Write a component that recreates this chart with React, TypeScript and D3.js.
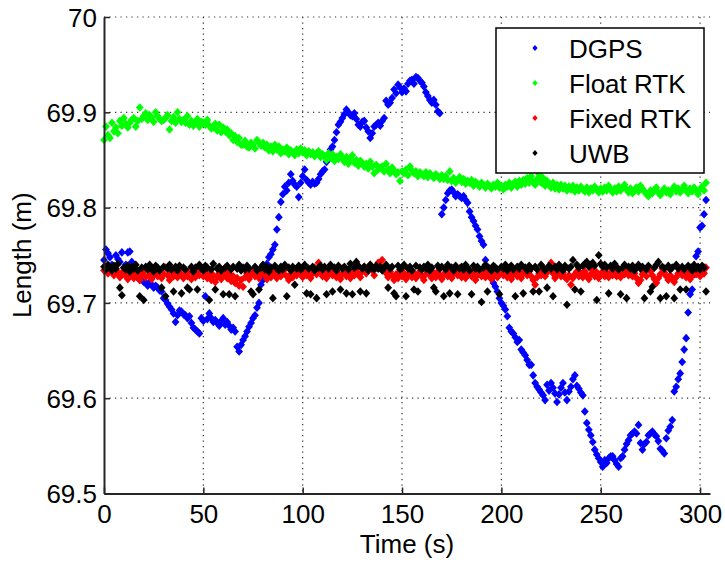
import React, { useRef, useEffect } from "react";
import * as d3 from "d3";

// samples are 1 s apart, starting at t = 0
const timeStep = 1;

const dgps = [
  69.745, 69.756, 69.752, 69.748, 69.740, 69.738, 69.750, 69.746, 69.743, 69.753,
  69.737, 69.740, 69.753, 69.754, 69.743, 69.736, 69.731, 69.727, 69.724, 69.729,
  69.722, 69.721, 69.718, 69.722, 69.719, 69.716, 69.718, 69.716, 69.713, 69.712,
  69.705, 69.703, 69.699, 69.696, 69.693, 69.689, 69.680, 69.687, 69.692, 69.691,
  69.688, 69.687, 69.684, 69.686, 69.679, 69.674, 69.672, 69.670, 69.668, 69.684,
  69.681, 69.707, 69.683, 69.689, 69.684, 69.680, 69.682, 69.679, 69.676, 69.681,
  69.684, 69.677, 69.680, 69.676, 69.672, 69.674, 69.670, 69.654, 69.649, 69.656,
  69.661, 69.665, 69.670, 69.675, 69.679, 69.684, 69.687, 69.695, 69.700, 69.719,
  69.724, 69.733, 69.741, 69.748, 69.751, 69.756, 69.761, 69.777, 69.790, 69.806,
  69.814, 69.822, 69.818, 69.826, 69.835, 69.828, 69.824, 69.822, 69.811, 69.826,
  69.833, 69.840, 69.829, 69.826, 69.824, 69.827, 69.825, 69.826, 69.830, 69.835,
  69.838, 69.840, 69.848, 69.852, 69.861, 69.864, 69.871, 69.879, 69.887, 69.890,
  69.894, 69.898, 69.903, 69.900, 69.897, 69.896, 69.899, 69.893, 69.887, 69.885,
  69.890, 69.891, 69.884, 69.880, 69.873, 69.878, 69.885, 69.887, 69.889, 69.886,
  69.891, 69.894, 69.912, 69.908, 69.910, 69.915, 69.924, 69.920, 69.929, 69.926,
  69.921, 69.925, 69.922, 69.930, 69.933, 69.934, 69.930, 69.937, 69.936, 69.933,
  69.931, 69.927, 69.921, 69.917, 69.913, 69.910, 69.913, 69.908, 69.901, 69.899,
  69.793, 69.800, 69.808, 69.815, 69.818, 69.819, 69.816, 69.812, 69.814, 69.812,
  69.810, 69.812, 69.808, 69.805, 69.796, 69.790, 69.786, 69.781, 69.777, 69.770,
  69.765, 69.761, 69.745, 69.738, 69.731, 69.726, 69.721, 69.717, 69.712, 69.705,
  69.700, 69.697, 69.693, 69.686, 69.674, 69.670, 69.668, 69.664, 69.659, 69.661,
  69.651, 69.648, 69.645, 69.640, 69.635, 69.635, 69.624, 69.616, 69.612, 69.609,
  69.606, 69.603, 69.598, 69.614, 69.608, 69.616, 69.611, 69.605, 69.596, 69.604,
  69.611, 69.616, 69.606, 69.598, 69.607, 69.612, 69.620, 69.624, 69.613, 69.610,
  69.606, 69.603, 69.586, 69.574, 69.567, 69.561, 69.554, 69.546, 69.541, 69.537,
  69.533, 69.528, 69.535, 69.532, 69.537, 69.539, 69.539, 69.535, 69.531, 69.528,
  69.537, 69.539, 69.546, 69.552, 69.556, 69.561, 69.563, 69.565, 69.563, 69.572,
  69.553, 69.546, 69.552, 69.554, 69.561, 69.563, 69.565, 69.562, 69.560, 69.555,
  69.547, 69.545, 69.542, 69.558, 69.566, 69.570, 69.577, 69.607, 69.612, 69.620,
  69.626, 69.638, 69.651, 69.663, 69.690, 69.709, 69.714, 69.730, 69.749, 69.754,
  69.779, 69.781, 69.793, 69.808,
];

const floatRtk = [
  69.871, 69.885, 69.876, 69.873, 69.889, 69.880, 69.884, 69.878, 69.891, 69.886,
  69.894, 69.888, 69.884, 69.889, 69.892, 69.894, 69.885, 69.891, 69.905, 69.893,
  69.896, 69.899, 69.892, 69.897, 69.894, 69.890, 69.900, 69.896, 69.893, 69.891,
  69.892, 69.894, 69.897, 69.882, 69.891, 69.895, 69.889, 69.900, 69.893, 69.890,
  69.892, 69.889, 69.896, 69.887, 69.891, 69.886, 69.889, 69.893, 69.885, 69.890,
  69.889, 69.887, 69.892, 69.886, 69.883, 69.884, 69.888, 69.881, 69.887, 69.879,
  69.884, 69.880, 69.882, 69.876, 69.878, 69.871, 69.875, 69.869, 69.873, 69.866,
  69.866, 69.870, 69.864, 69.863, 69.868, 69.866, 69.862, 69.871, 69.868, 69.865,
  69.868, 69.863, 69.866, 69.860, 69.864, 69.859, 69.866, 69.861, 69.864, 69.857,
  69.861, 69.859, 69.863, 69.856, 69.860, 69.858, 69.855, 69.861, 69.857, 69.862,
  69.858, 69.860, 69.855, 69.859, 69.856, 69.858, 69.854, 69.857, 69.859, 69.853,
  69.856, 69.854, 69.850, 69.857, 69.852, 69.856, 69.849, 69.853, 69.851, 69.856,
  69.852, 69.848, 69.853, 69.846, 69.851, 69.855, 69.847, 69.850, 69.844, 69.849,
  69.847, 69.843, 69.846, 69.841, 69.848, 69.843, 69.836, 69.845, 69.840, 69.842,
  69.843, 69.838, 69.846, 69.840, 69.836, 69.842, 69.839, 69.835, 69.837, 69.828,
  69.838, 69.836, 69.840, 69.834, 69.843, 69.839, 69.836, 69.838, 69.833, 69.837,
  69.835, 69.833, 69.837, 69.832, 69.836, 69.834, 69.831, 69.835, 69.833, 69.830,
  69.834, 69.830, 69.833, 69.829, 69.838, 69.828, 69.831, 69.826, 69.829, 69.832,
  69.827, 69.830, 69.825, 69.828, 69.826, 69.829, 69.823, 69.827, 69.825, 69.822,
  69.826, 69.824, 69.821, 69.825, 69.823, 69.820, 69.824, 69.822, 69.826, 69.821,
  69.823, 69.819, 69.824, 69.822, 69.826, 69.821, 69.825, 69.827, 69.822, 69.828,
  69.824, 69.829, 69.825, 69.831, 69.826, 69.833, 69.827, 69.824, 69.830, 69.835,
  69.826, 69.831, 69.823, 69.828, 69.825, 69.821, 69.826, 69.820, 69.824, 69.819,
  69.824, 69.820, 69.823, 69.818, 69.822, 69.819, 69.823, 69.817, 69.821, 69.818,
  69.822, 69.819, 69.817, 69.821, 69.816, 69.820, 69.818, 69.822, 69.819, 69.816,
  69.820, 69.817, 69.821, 69.818, 69.823, 69.819, 69.816, 69.820, 69.817, 69.822,
  69.818, 69.821, 69.824, 69.819, 69.816, 69.820, 69.815, 69.818, 69.821, 69.817,
  69.823, 69.820, 69.817, 69.814, 69.812, 69.818, 69.815, 69.819, 69.821, 69.816,
  69.813, 69.817, 69.820, 69.816, 69.818, 69.814, 69.819, 69.822, 69.817, 69.820,
  69.816, 69.819, 69.823, 69.818, 69.815, 69.820, 69.817, 69.821, 69.818, 69.814,
  69.819, 69.822, 69.818, 69.826,
];

const fixedRtk = [
  69.734, 69.738, 69.731, 69.736, 69.733, 69.729, 69.735, 69.732, 69.727, 69.731,
  69.734, 69.728, 69.725, 69.731, 69.729, 69.726, 69.732, 69.728, 69.724, 69.730,
  69.733, 69.727, 69.735, 69.730, 69.725, 69.729, 69.734, 69.728, 69.731, 69.726,
  69.730, 69.737, 69.729, 69.724, 69.732, 69.728, 69.733, 69.727, 69.735, 69.730,
  69.726, 69.731, 69.728, 69.734, 69.725, 69.730, 69.727, 69.732, 69.729, 69.735,
  69.728, 69.732, 69.726, 69.730, 69.724, 69.729, 69.722, 69.727, 69.731, 69.725,
  69.729, 69.733, 69.726, 69.730, 69.723, 69.728, 69.721, 69.726, 69.718, 69.724,
  69.717, 69.727, 69.731, 69.725, 69.729, 69.733, 69.728, 69.732, 69.726, 69.730,
  69.734, 69.729, 69.725, 69.731, 69.727, 69.733, 69.730, 69.726, 69.732, 69.728,
  69.731, 69.735, 69.728, 69.724, 69.730, 69.727, 69.733, 69.729, 69.736, 69.731,
  69.727, 69.733, 69.729, 69.734, 69.726, 69.731, 69.737, 69.730, 69.742, 69.733,
  69.728, 69.732, 69.726, 69.730, 69.735, 69.729, 69.733, 69.727, 69.731, 69.725,
  69.730, 69.734, 69.728, 69.732, 69.726, 69.731, 69.729, 69.735, 69.730, 69.727,
  69.733, 69.738, 69.731, 69.736, 69.740, 69.734, 69.729, 69.737, 69.742, 69.739,
  69.745, 69.736, 69.731, 69.727, 69.733, 69.729, 69.724, 69.730, 69.726, 69.732,
  69.728, 69.731, 69.725, 69.729, 69.734, 69.727, 69.731, 69.726, 69.730, 69.733,
  69.728, 69.724, 69.730, 69.734, 69.729, 69.726, 69.731, 69.727, 69.733, 69.729,
  69.725, 69.730, 69.736, 69.728, 69.732, 69.726, 69.731, 69.735, 69.729, 69.733,
  69.727, 69.731, 69.726, 69.730, 69.734, 69.728, 69.732, 69.724, 69.729, 69.733,
  69.728, 69.731, 69.727, 69.734, 69.729, 69.725, 69.730, 69.733, 69.727, 69.731,
  69.735, 69.729, 69.733, 69.727, 69.731, 69.725, 69.730, 69.734, 69.728, 69.732,
  69.726, 69.731, 69.735, 69.729, 69.733, 69.728, 69.724, 69.719, 69.727, 69.731,
  69.729, 69.734, 69.728, 69.732, 69.737, 69.742, 69.731, 69.726, 69.730, 69.734,
  69.728, 69.732, 69.727, 69.725, 69.729, 69.719, 69.726, 69.730, 69.733, 69.728,
  69.731, 69.727, 69.733, 69.729, 69.725, 69.730, 69.734, 69.728, 69.732, 69.726,
  69.730, 69.733, 69.728, 69.731, 69.727, 69.732, 69.729, 69.734, 69.728, 69.731,
  69.727, 69.732, 69.730, 69.735, 69.729, 69.733, 69.728, 69.731, 69.726, 69.721,
  69.724, 69.730, 69.734, 69.728, 69.737, 69.733, 69.729, 69.725, 69.721, 69.726,
  69.730, 69.736, 69.732, 69.728, 69.724, 69.729, 69.725, 69.722, 69.727, 69.731,
  69.735, 69.729, 69.733, 69.727, 69.731, 69.725, 69.729, 69.734, 69.730, 69.732,
  69.728, 69.734, 69.731, 69.737,
];

const uwb = [
  69.738, 69.735, 69.740, 69.737, 69.734, 69.739, 69.736, 69.741, 69.716, 69.708,
  69.737, 69.735, 69.739, 69.733, 69.738, 69.736, 69.740, 69.734, 69.707, 69.737,
  69.703, 69.738, 69.735, 69.740, 69.736, 69.733, 69.739, 69.737, 69.734, 69.716,
  69.738, 69.707, 69.736, 69.740, 69.735, 69.712, 69.738, 69.734, 69.739, 69.710,
  69.737, 69.735, 69.716, 69.714, 69.738, 69.733, 69.737, 69.714, 69.740, 69.736,
  69.734, 69.739, 69.737, 69.703, 69.735, 69.741, 69.714, 69.736, 69.738, 69.734,
  69.709, 69.737, 69.739, 69.709, 69.735, 69.738, 69.707, 69.736, 69.740, 69.734,
  69.737, 69.735, 69.739, 69.736, 69.712, 69.709, 69.738, 69.734, 69.714, 69.737,
  69.740, 69.735, 69.738, 69.733, 69.737, 69.705, 69.739, 69.736, 69.734, 69.738,
  69.735, 69.740, 69.707, 69.737, 69.734, 69.738, 69.719, 69.736, 69.739, 69.735,
  69.737, 69.740, 69.710, 69.736, 69.709, 69.738, 69.734, 69.705, 69.737, 69.739,
  69.735, 69.738, 69.709, 69.736, 69.740, 69.712, 69.737, 69.734, 69.739, 69.714,
  69.736, 69.738, 69.710, 69.735, 69.741, 69.709, 69.737, 69.743, 69.739, 69.712,
  69.736, 69.738, 69.710, 69.734, 69.740, 69.737, 69.735, 69.739, 69.736, 69.738,
  69.734, 69.737, 69.740, 69.716, 69.736, 69.738, 69.710, 69.707, 69.739, 69.735,
  69.737, 69.740, 69.707, 69.736, 69.738, 69.734, 69.714, 69.739, 69.712, 69.737,
  69.735, 69.738, 69.736, 69.740, 69.734, 69.737, 69.716, 69.712, 69.739, 69.736,
  69.738, 69.707, 69.735, 69.740, 69.710, 69.737, 69.734, 69.739, 69.709, 69.736,
  69.738, 69.735, 69.740, 69.737, 69.734, 69.709, 69.739, 69.736, 69.738, 69.735,
  69.701, 69.737, 69.740, 69.712, 69.736, 69.734, 69.739, 69.737, 69.735, 69.709,
  69.738, 69.736, 69.740, 69.734, 69.737, 69.739, 69.735, 69.707, 69.738, 69.736,
  69.740, 69.710, 69.737, 69.734, 69.739, 69.736, 69.712, 69.738, 69.735, 69.712,
  69.740, 69.737, 69.734, 69.716, 69.739, 69.736, 69.707, 69.738, 69.735, 69.740,
  69.737, 69.734, 69.739, 69.698, 69.736, 69.738, 69.745, 69.714, 69.740, 69.737,
  69.712, 69.739, 69.741, 69.743, 69.738, 69.740, 69.742, 69.739, 69.703, 69.750,
  69.741, 69.738, 69.740, 69.737, 69.710, 69.739, 69.736, 69.741, 69.738, 69.735,
  69.709, 69.737, 69.740, 69.705, 69.738, 69.736, 69.739, 69.734, 69.737, 69.740,
  69.736, 69.738, 69.705, 69.735, 69.739, 69.712, 69.717, 69.737, 69.740, 69.743,
  69.705, 69.738, 69.736, 69.707, 69.739, 69.735, 69.737, 69.705, 69.740, 69.736,
  69.714, 69.738, 69.735, 69.714, 69.739, 69.737, 69.734, 69.740, 69.736, 69.738,
  69.735, 69.739, 69.737, 69.712,
];

const seriesNames = ["DGPS", "Float RTK", "Fixed RTK", "UWB"];
const seriesColors = ["#0000ff", "#00ff00", "#ff0000", "#000000"];
const seriesValues = [dgps, floatRtk, fixedRtk, uwb];

const xTicks = [0, 50, 100, 150, 200, 250, 300];
const yTicks = [69.5, 69.6, 69.7, 69.8, 69.9, 70];

const width = 725;
const height = 563;
const margin = { top: 17, right: 15, bottom: 69.5, left: 104 };
const font = "'Liberation Sans', Arial, Helvetica, sans-serif";

const diamond = (w: number, h: number) => `M0,${-h}L${w},0L0,${h}L${-w},0Z`;

function App() {
  const xAxisRef = useRef<SVGGElement>(null);
  const yAxisRef = useRef<SVGGElement>(null);

  const x = d3.scaleLinear().domain([0, 305]).range([margin.left, width - margin.right]);
  const y = d3.scaleLinear().domain([69.5, 70]).range([height - margin.bottom, margin.top]);

  useEffect(() => {
    const xAxis = d3.axisBottom(x).tickValues(xTicks).tickFormat(d3.format("d")).tickSizeInner(-6).tickSizeOuter(0).tickPadding(11);
    const yAxis = d3.axisLeft(y).tickValues(yTicks).tickFormat((d) => String(+d)).tickSizeInner(-6).tickSizeOuter(0).tickPadding(7);

    const gx = d3.select(xAxisRef.current).call(xAxis);
    const gy = d3.select(yAxisRef.current).call(yAxis);

    [gx, gy].forEach((g) => {
      g.select(".domain").attr("stroke", "#262626").attr("stroke-width", 2);
      g.selectAll(".tick line").attr("stroke", "#262626").attr("stroke-width", 1.5);
      g.selectAll(".tick text").attr("fill", "#000").style("font-family", font).style("font-size", "26px");
    });
    gy.selectAll(".tick text").attr("dy", "0.36em");
  }, []);

  const times = dgps.map((_, i) => i * timeStep);
  const marker = diamond(3.9, 4.3);

  return (
    <svg width={width} height={height} style={{ position: "absolute", left: 0, top: 0, background: "#fff" }}>
      <rect width={width} height={height} fill="#fff" />

      {/* dotted grid */}
      <g stroke="#333" strokeWidth={1.2} strokeDasharray="1.2 4.3">
        {xTicks.filter((t) => t > 0).map((t) => (
          <line key={"gx" + t} x1={x(t)} x2={x(t)} y1={y(70)} y2={y(69.5)} />
        ))}
        {yTicks.filter((t) => t > 69.5).map((t) => (
          <line key={"gy" + t} x1={x(0)} x2={x(305)} y1={y(t)} y2={y(t)} />
        ))}
      </g>

      {/* data */}
      {seriesValues.map((vals, si) => (
        <g key={seriesNames[si]} fill={seriesColors[si]}>
          {vals.map((v, i) => (
            <path key={i} d={marker} transform={`translate(${x(times[i])},${y(v)})`} />
          ))}
        </g>
      ))}

      <g ref={xAxisRef} transform={`translate(0,${height - margin.bottom})`} />
      <g ref={yAxisRef} transform={`translate(${margin.left},0)`} />

      {/* axis titles */}
      <text x={(x(0) + x(305)) / 2} y={553} textAnchor="middle" fontFamily={font} fontSize={26}>
        Time (s)
      </text>
      <text transform={`translate(31,${(y(69.5) + y(70)) / 2}) rotate(-90)`} textAnchor="middle" fontFamily={font} fontSize={26}>
        Length (m)
      </text>

      {/* legend */}
      <g>
        <rect x={496} y={28} width={208} height={145} fill="#fff" stroke="#000" strokeWidth={1.5} />
        {seriesNames.map((name, i) => (
          <g key={name} transform={`translate(0,${48 + i * 35})`}>
            <path d={diamond(2.6, 3)} transform="translate(535,0)" fill={seriesColors[i]} />
            <text x={569} y={9.5} fontFamily={font} fontSize={26} fill="#000">
              {name}
            </text>
          </g>
        ))}
      </g>
    </svg>
  );
}

export default App;
